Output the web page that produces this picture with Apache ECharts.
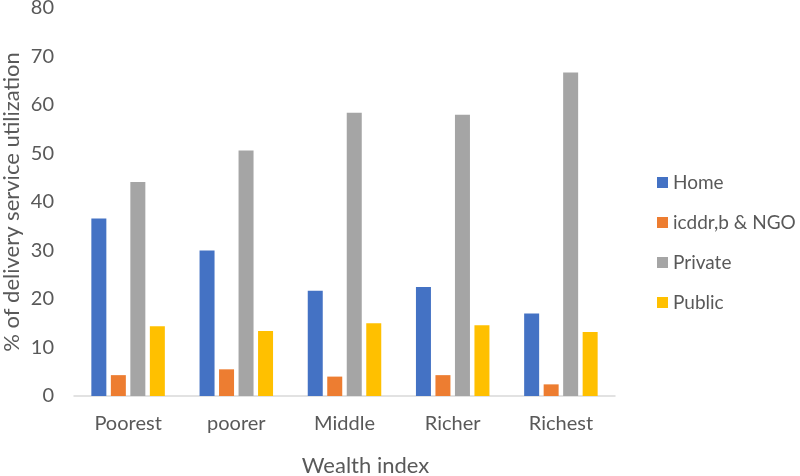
<!DOCTYPE html>
<html><head><meta charset="utf-8">
<script src="https://cdn.jsdelivr.net/npm/echarts@6/dist/echarts.min.js"></script>
<style>html,body{margin:0;padding:0;background:#fff}#c{width:800px;height:476px}</style>
</head><body><div id="c"></div>
<script>
const categories = ['Poorest', 'poorer', 'Middle', 'Richer', 'Richest'];
const homeVals = [36.6, 30.0, 21.7, 22.5, 17.0];
const ngoVals = [4.3, 5.5, 4.0, 4.3, 2.4];
const privateVals = [44.1, 50.6, 58.4, 58.0, 66.7];
const publicVals = [14.4, 13.4, 15.0, 14.6, 13.2];
const seriesNames = ['Home', 'icddr,b & NGO', 'Private', 'Public'];
const colors = ['#4472C4', '#ED7D31', '#A5A5A5', '#FFC000'];
const yTicks = [0, 80, 10];

const FONT = 'Lato, "Open Sans", sans-serif';
const chart = echarts.init(document.getElementById('c'), null, {renderer: 'canvas'});
const vals = [homeVals, ngoVals, privateVals, publicVals];
chart.setOption({
  animation: false,
  textStyle: {fontFamily: FONT},
  color: colors,
  grid: {left: 74, right: 185, top: 8, bottom: 80, outerBoundsMode: 'none', containLabel: false},
  legend: {
    orient: 'vertical', left: 652, top: 168,
    itemWidth: 11, itemHeight: 11, itemGap: 21,
    icon: 'rect',
    textStyle: {fontSize: 19, color: '#595959', fontFamily: FONT},
    data: seriesNames
  },
  xAxis: {
    type: 'category', data: categories,
    name: 'Wealth index', nameLocation: 'middle', nameGap: 59, nameMoveOverlap: false,
    nameTextStyle: {fontSize: 22, color: '#595959', padding: [0, 0, 0, 42]},
    axisLine: {lineStyle: {color: '#D9D9D9', width: 1.5}},
    axisTick: {show: false},
    axisLabel: {fontSize: 20, color: '#595959', margin: 18}
  },
  yAxis: {
    type: 'value', min: yTicks[0], max: yTicks[1], interval: yTicks[2],
    name: '% of delivery service utilization', nameLocation: 'middle', nameGap: 51, nameMoveOverlap: false,
    nameTextStyle: {fontSize: 22, color: '#595959'},
    axisLine: {show: false}, axisTick: {show: false},
    splitLine: {show: false},
    axisLabel: {fontSize: 20, color: '#595959', margin: 20}
  },
  series: seriesNames.map((n, i) => ({
    name: n, type: 'bar', data: vals[i],
    barWidth: 15, barGap: '30%',
    itemStyle: {color: colors[i]}
  }))
});
</script></body></html>
